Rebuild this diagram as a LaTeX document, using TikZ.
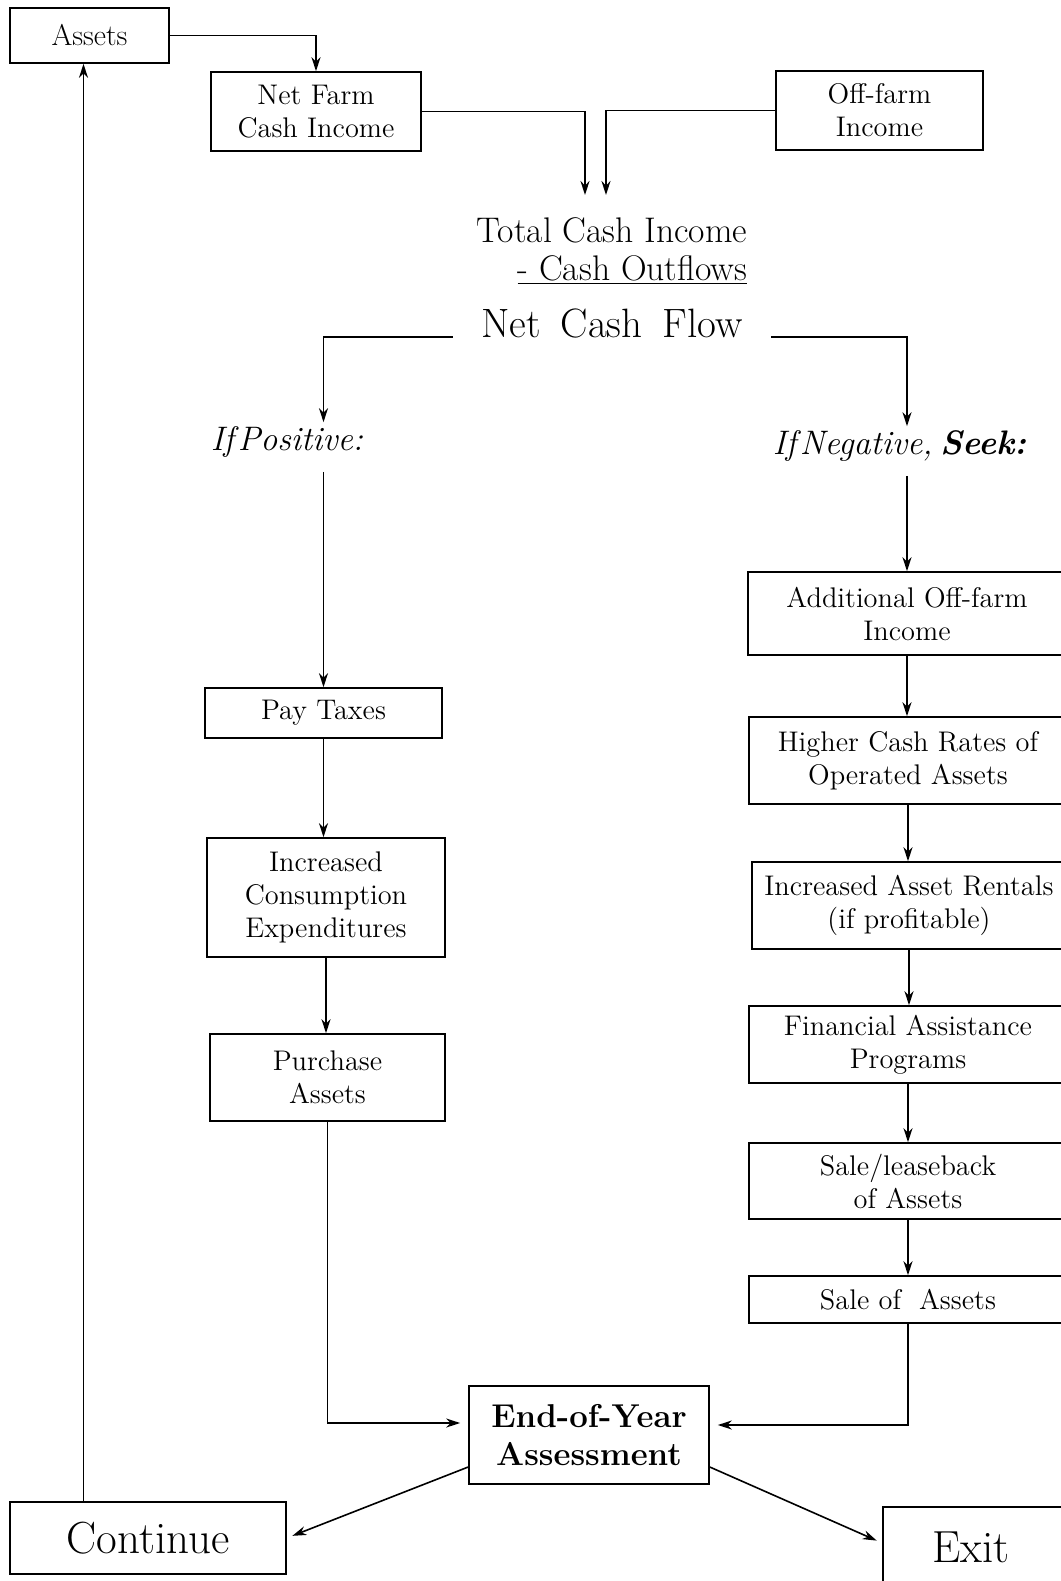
\documentclass[tikz,border=0pt]{standalone}
\usepackage{fontspec}
\usetikzlibrary{arrows.meta,calc}
\tikzstyle{flowbox} = [rectangle, draw=black, line width=0.8pt, align=center, inner sep=2pt, font=\fontsize{14.2}{16.5}\selectfont]
\tikzstyle{bigbox} = [flowbox, font=\fontsize{22.5}{26}\selectfont]
\tikzstyle{plaintext} = [align=center, inner sep=2pt]
\tikzstyle{flowline} = [->, line width=0.8pt]

\begin{document}
\begin{tikzpicture}[x=0.5pt, y=-0.5pt, >={Stealth[length=7pt,width=4.5pt]}]
  \useasboundingbox (0,0) rectangle (1061,1581);

  % top row
  \node[flowbox, font=\fontsize{15}{17}\selectfont, minimum width=79.5pt, minimum height=27.5pt] (assets) at (89.5,35.5) {Assets};
  \node[flowbox, minimum width=105pt, minimum height=39.5pt] (netfarm) at (316,111.5) {Net Farm\\Cash Income};
  \node[flowbox, minimum width=103.5pt, minimum height=39.5pt] (offfarm) at (879.5,110.5) {Off-farm\\Income};
  \coordinate (inL) at (585,195);
  \coordinate (inR) at (606,195);

  \node[plaintext, align=right, font=\fontsize{17.8}{19}\selectfont] (tci) at (612,251) {Total Cash Income\\\underline{- Cash Outflows}};
  \node[plaintext, inner xsep=14pt, font=\fontsize{20.5}{23}\selectfont] (ncf) at (612,323) {Net\hspace{10pt}Cash\hspace{10pt}Flow};

  \node[plaintext, font=\fontsize{17}{19}\selectfont\itshape] (ifpos) at (287,442) {If\kern2pt Positive:};
  \node[plaintext, font=\fontsize{17}{19}\selectfont\itshape] (ifneg) at (900,446) {If\kern2pt Negative,\hspace{4pt}\textbf{Seek:}};

  % left column
  \node[flowbox, minimum width=118.5pt, minimum height=25pt] (paytax) at (323.5,713) {Pay Taxes};
  \node[flowbox, minimum width=119pt, minimum height=59.5pt] (consump) at (326,897.5) {Increased\\Consumption\\Expenditures};
  \node[flowbox, minimum width=117.5pt, minimum height=43.5pt] (purchase) at (327.5,1077.5) {Purchase\\Assets};

  % right column
  \node[flowbox, minimum width=159pt, minimum height=41.5pt] (addoff) at (907,613.5) {Additional Off-farm\\Income};
  \node[flowbox, minimum width=159pt, minimum height=43.5pt] (higher) at (908,760.5) {Higher Cash Rates of\\Operated Assets};
  \node[flowbox, minimum width=157pt, minimum height=43.5pt] (rentals) at (909,905.5) {Increased Asset Rentals\\(if profitable)};
  \node[flowbox, minimum width=159pt, minimum height=38.5pt] (finass) at (908,1044.5) {Financial Assistance\\Programs};
  \node[flowbox, minimum width=159pt, minimum height=38pt] (saleback) at (908,1181) {Sale/leaseback\\of Assets};
  \node[flowbox, minimum width=159pt, minimum height=23.5pt] (saleof) at (908,1299.5) {Sale of\hspace{9pt}Assets};

  % bottom
  \node[flowbox, font=\fontsize{16.5}{19}\selectfont\bfseries, minimum width=120pt, minimum height=49pt] (eoy) at (589,1435) {End-of-Year\\Assessment};
  \node[bigbox, minimum width=138pt, minimum height=36pt] (continue) at (148,1538) {Continue};
  \node[bigbox, minimum width=95pt, minimum height=40pt] (exit) at (978,1547) {Exit\kern7pt};

  % connectors
  \draw[flowline] (assets.east) -| (netfarm.north);
  \draw[flowline] (netfarm.east) -| (inL);
  \draw[flowline] (offfarm.west) -| (inR);
  \draw[flowline] (ncf.base west) -| (paytax.north |- ifpos.north);
  \draw[flowline] (ncf.base east) -| (addoff.north |- ifneg.north);
  \draw[flowline, shorten <=5pt] (paytax.north |- ifpos.south) -- (paytax.north);
  \draw[flowline, shorten <=5pt] (addoff.north |- ifneg.south) -- (addoff.north);
  \draw[flowline] (paytax.south) -- (paytax.south |- consump.north);
  \draw[flowline] (consump.south) -- (consump.south |- purchase.north);
  \foreach \a/\b in {addoff/higher, higher/rentals, rentals/finass, finass/saleback, saleback/saleof}
  \draw[flowline] (\a.south) -- (\a.south |- \b.north);
  \draw[flowline, shorten >=4pt] (purchase.south) |- ([yshift=6pt]eoy.west);
  \draw[flowline, shorten >=4pt] (saleof.south) |- ([yshift=5pt]eoy.east);
  \draw[flowline, shorten >=3pt] ([yshift=-16pt]eoy.west) -- (continue.east);
  \draw[flowline, shorten >=3pt] ([yshift=-16pt]eoy.east) -- ([yshift=2pt]exit.west);
  \draw[flowline] ([xshift=-3pt]continue.north -| assets.south) -- ([xshift=-3pt]assets.south);
\end{tikzpicture}
\end{document}
